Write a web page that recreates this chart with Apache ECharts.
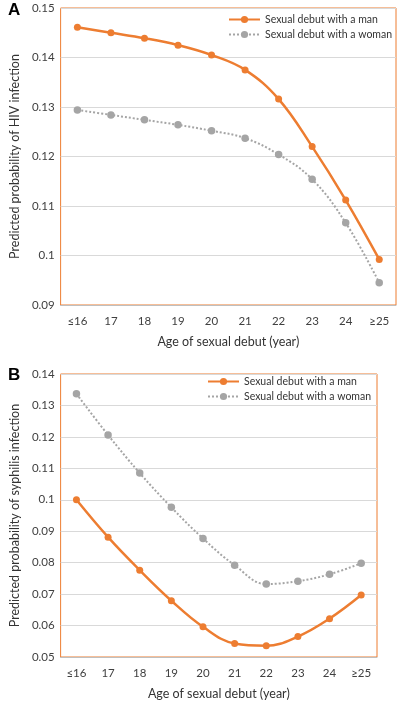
<!DOCTYPE html>
<html><head><meta charset="utf-8">
<script src="https://cdn.jsdelivr.net/npm/echarts@6/dist/echarts.min.js"></script>
<style>html,body{margin:0;padding:0;background:#fff}#c{width:400px;height:701px}</style>
</head><body><div id="c"></div>
<script>
const categories = ['≤16','17','18','19','20','21','22','23','24','≥25'];
const hivMan =   [0.1461,0.1450,0.1439,0.1425,0.1405,0.1375,0.1316,0.1220,0.1112,0.0992];
const hivWoman = [0.1294,0.1284,0.1274,0.1264,0.1252,0.1237,0.1204,0.1154,0.1066,0.0945];
const syphMan =   [0.1000,0.0881,0.0776,0.0679,0.0596,0.0543,0.0536,0.0565,0.0622,0.0697];
const syphWoman = [0.1337,0.1206,0.1085,0.0976,0.0877,0.0792,0.0732,0.0741,0.0763,0.0798];
const nameMan = 'Sexual debut with a man';
const nameWoman = 'Sexual debut with a woman';
const ORANGE = '#ed7d31', GREY = '#a5a5a5';
const FONT = 'Lato';
const txt = {fontFamily: FONT, color: '#404040', fontSize: 11};
function xAx(g){return {type:'category',gridIndex:g,data:categories,boundaryGap:true,
  axisLine:{lineStyle:{color:'#bfbfbf'}},axisTick:{show:false},
  axisLabel:Object.assign({margin:10},txt,{fontSize:11.5}),
  name:'Age of sexual debut (year)',nameLocation:'middle',nameGap:30,
  nameTextStyle:{fontFamily:FONT,color:'#333',fontSize:12.5}};}
function yAx(g,min,max,name){return {type:'value',gridIndex:g,min:min,max:max,interval:0.01,
  axisLine:{show:false},axisTick:{show:false},
  splitLine:{lineStyle:{color:'#d9d9d9'}},
  axisLabel:Object.assign({margin:6},txt,{fontSize:11.5}),
  name:name,nameLocation:'middle',nameRotate:90,nameGap:33,
  nameTextStyle:{fontFamily:FONT,color:'#333',fontSize:12.5}};}
function ser(name,data,g,color,dotted){return {name:name,type:'line',xAxisIndex:g,yAxisIndex:g,data:data,
  smooth:0.4,symbol:'circle',symbolSize:dotted?7.5:7,
  lineStyle:{color:color,width:dotted?2:2.5,type:dotted?'dotted':'solid'},
  itemStyle:{color:color}};}
const legText = {fontFamily:FONT,color:'#333',fontSize:10.5};
const chart = echarts.init(document.getElementById('c'),null,{renderer:'canvas'});
chart.setOption({
  animation:false,
  grid:[
    {left:50,top:8,width:346,height:297,show:true,borderColor:ORANGE,borderWidth:1,backgroundColor:'transparent'},
    {left:49.5,top:374,width:327.5,height:283,show:true,borderColor:ORANGE,borderWidth:1,backgroundColor:'transparent'}
  ],
  xAxis:[xAx(0),xAx(1)],
  yAxis:[yAx(0,0.09,0.15,'Predicted probability of HIV infection'),
         yAx(1,0.05,0.14,'Predicted probability of syphilis infection')],
  legend:[
    {left:228,top:14,orient:'vertical',itemGap:4,itemWidth:31,itemHeight:9,padding:0,
     textStyle:legText,data:[nameMan,nameWoman]},
    {left:207,top:376,orient:'vertical',itemGap:4,itemWidth:31,itemHeight:9,padding:0,
     textStyle:legText,data:[nameMan,nameWoman]}
  ],
  graphic:[
    {type:'text',left:8,top:2,style:{text:'A',font:'bold 17px Arial',fill:'#000'}},
    {type:'text',left:8,top:367,style:{text:'B',font:'bold 17px Arial',fill:'#000'}}
  ],
  series:[
    ser(nameMan,hivMan,0,ORANGE,false),
    ser(nameWoman,hivWoman,0,GREY,true),
    ser(nameMan,syphMan,1,ORANGE,false),
    ser(nameWoman,syphWoman,1,GREY,true)
  ]
});
</script></body></html>
